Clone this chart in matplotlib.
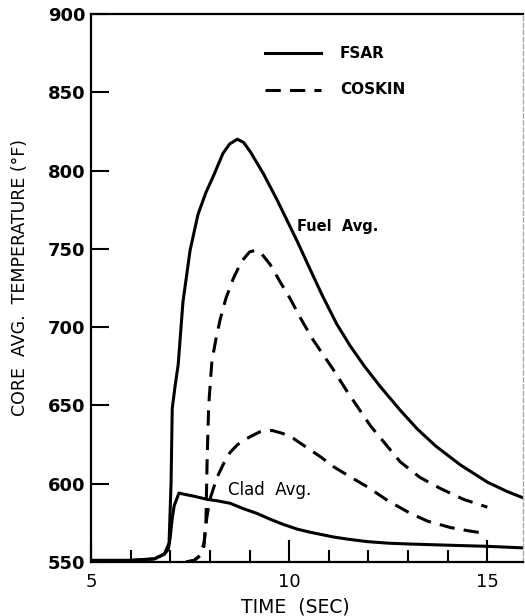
import matplotlib
matplotlib.use('Agg')
import matplotlib.pyplot as plt
from matplotlib.ticker import MultipleLocator

# FSAR fuel average (solid)
fsar_fuel_t = [5.0, 6.0, 6.6, 6.85, 6.97, 7.02, 7.05, 7.12, 7.2, 7.32, 7.5, 7.7, 7.9,
               8.08, 8.33, 8.5, 8.69, 8.85, 9.02, 9.35, 9.7, 10.2, 10.6, 10.86, 11.2,
               11.54, 11.9, 12.3, 12.8, 13.23, 13.7, 14.32, 15.0, 15.5, 15.9]
fsar_fuel_T = [551, 551, 552, 555, 562, 600, 648, 662, 676, 716, 749, 772, 786,
               796, 811, 817, 820, 818, 812, 798, 781, 755, 733, 719, 702,
               688, 675, 662, 647, 635, 624, 612, 601, 595, 591]

# FSAR clad average (solid)
fsar_clad_t = [5.0, 6.0, 6.6, 6.85, 6.95, 7.0, 7.05, 7.1, 7.22, 7.4, 7.6, 7.93, 8.2,
               8.51, 8.85, 9.19, 9.5, 9.85, 10.2, 10.53, 11.11, 11.5, 11.97, 12.5,
               13.0, 13.64, 14.3, 15.0, 15.9]
fsar_clad_T = [551, 551, 552, 555, 558, 566, 578, 586, 594, 593, 592, 590, 589,
               587.5, 584, 581, 577.5, 574, 571, 569, 566, 564.5, 563, 562,
               561.5, 561, 560.5, 560, 559]

# COSKIN fuel average (dashed)
cosk_fuel_t = [7.4, 7.6, 7.75, 7.85, 7.9, 7.93, 7.97, 8.05, 8.15, 8.26, 8.4, 8.59,
               8.8, 9.0, 9.14, 9.3, 9.52, 9.77, 10.03, 10.28, 10.6, 11.11, 11.46,
               12.05, 12.8, 13.3, 13.81, 14.4, 15.0]
cosk_fuel_T = [550, 551, 554, 560, 575, 615, 650, 678, 692, 705, 718, 731,
               742, 748, 749, 747, 740, 729, 718, 706, 692, 673, 659,
               637, 614, 604, 597, 590, 585]

# COSKIN clad average (dashed)
cosk_clad_t = [7.4, 7.6, 7.75, 7.85, 7.92, 8.0, 8.18, 8.35, 8.51, 8.7, 8.94, 9.25,
               9.57, 9.85, 10.1, 10.45, 10.8, 11.11, 11.5, 11.97, 12.5, 13.06, 13.5,
               14.07, 14.5, 15.0]
cosk_clad_T = [550, 551, 554, 562, 578, 590, 604, 613, 620, 625, 629, 633,
               634, 632, 629, 623, 617, 611, 605, 598, 589, 581, 576,
               572, 570, 568]

fig = plt.figure(figsize=(5.25, 6.16), dpi=100)
ax = fig.add_axes([0.1733, 0.0877, 0.8229, 0.8896])

ax.plot(fsar_fuel_t, fsar_fuel_T, color='black', lw=2.2, solid_joinstyle='round')
ax.plot(fsar_clad_t, fsar_clad_T, color='black', lw=2.2, solid_joinstyle='round')
ax.plot(cosk_fuel_t, cosk_fuel_T, color='black', lw=2.2, dashes=(5, 3))
ax.plot(cosk_clad_t, cosk_clad_T, color='black', lw=2.2, dashes=(5, 3))

ax.set_xlim(5, 15.9)
ax.set_ylim(550, 900)

ax.xaxis.set_major_locator(MultipleLocator(5))
ax.xaxis.set_minor_locator(MultipleLocator(1))
ax.yaxis.set_major_locator(MultipleLocator(50))
ax.tick_params(axis='x', which='major', direction='in', length=16, width=1.5, pad=8,
               labelsize=13)
ax.tick_params(axis='x', which='minor', direction='in', length=9, width=1.5)
ax.tick_params(axis='y', which='major', direction='in', length=13, width=1.5, pad=4,
               labelsize=13)
for lab in ax.get_yticklabels():
    lab.set_fontweight('bold')

for side in ['left', 'bottom', 'top']:
    ax.spines[side].set_linewidth(1.6)
ax.spines['right'].set_color('#aaaaaa')
ax.spines['right'].set_linewidth(1.0)
ax.spines['right'].set_linestyle((0, (3, 2)))

# legend drawn by hand in axes coordinates
ax.plot([0.403, 0.532], [0.928, 0.928], transform=ax.transAxes, color='black', lw=2.2)
ax.plot([0.403, 0.532], [0.862, 0.862], transform=ax.transAxes, color='black', lw=2.2,
        dashes=(5, 3))
ax.text(0.576, 0.928, 'FSAR', transform=ax.transAxes, va='center', ha='left',
        fontsize=11, fontweight='bold')
ax.text(0.576, 0.862, 'COSKIN', transform=ax.transAxes, va='center', ha='left',
        fontsize=11, fontweight='bold')

ax.text(10.2, 764, 'Fuel  Avg.', fontsize=10.5, fontweight='bold', va='center', ha='left')
ax.text(8.45, 596, 'Clad  Avg.', fontsize=12, va='center', ha='left')

fig.text(20 / 525, 1 - 277 / 616, 'CORE  AVG.  TEMPERATURE (°F)', rotation=90,
         ha='center', va='center', fontsize=12.5)
fig.text(295 / 525, 1 - 607 / 616, 'TIME  (SEC)', ha='center', va='center',
         fontsize=13.5)

fig.savefig('out.png', dpi=100)
